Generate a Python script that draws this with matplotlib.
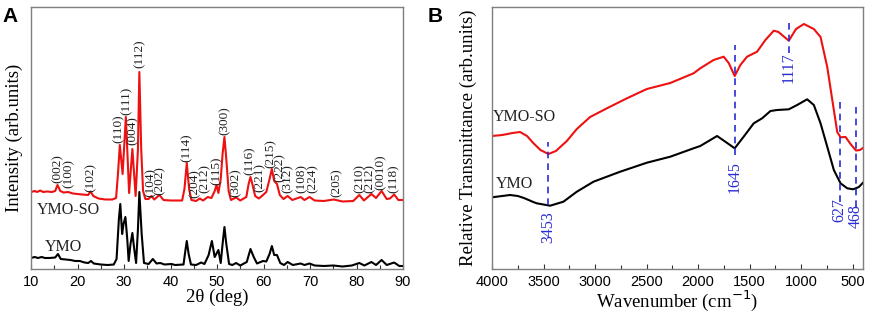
import matplotlib
matplotlib.use("Agg")
import matplotlib.pyplot as plt
from matplotlib.ticker import MultipleLocator

# ---------------- Panel A: XRD ----------------
xrd_ymoso_x = [10.0, 10.8, 11.3, 12.0, 12.6, 13.5, 14.5, 15.2, 15.7, 16.3, 17.0, 18.0, 19.0, 20.0,
               21.0, 22.3, 22.8, 23.4, 24.5, 26.0, 27.5, 28.3, 28.7, 29.1, 29.7, 30.4, 31.1, 31.8,
               32.5, 33.0, 33.3, 33.7, 34.1, 34.6, 35.3, 35.9, 36.5, 37.6, 38.5, 40.0, 42.5, 43.0,
               43.5, 44.0, 44.5, 45.5, 46.3, 47.0, 48.0, 48.8, 49.5, 49.9, 50.3, 50.8, 51.2, 51.6,
               52.0, 52.5, 53.0, 54.1, 55.0, 56.3, 56.8, 57.2, 57.6, 58.2, 59.0, 59.9, 60.6, 61.2,
               61.8, 62.3, 62.9, 63.5, 64.3, 65.2, 66.2, 68.0, 68.8, 69.9, 71.0, 73.0, 75.1, 77.0,
               79.3, 80.6, 81.6, 83.2, 84.2, 85.4, 86.5, 87.2, 88.1, 89.0, 90.0]
xrd_ymoso_y = [77, 78, 77, 78.5, 77, 77.5, 77, 78, 84, 78, 76.5, 77, 75.5, 75,
               74.5, 74, 77.5, 73, 70.5, 69.5, 69.5, 71, 95, 124, 95, 152, 76, 120,
               73, 120, 197, 120, 78, 70, 70, 73, 69.5, 74, 69, 68.5, 68.5, 80,
               106, 80, 69, 68, 70.5, 68.5, 72, 71, 78, 84, 76, 90, 115, 132,
               110, 78, 69, 71.5, 68.5, 72, 85, 92, 85, 73, 70.5, 74, 77, 88,
               100, 88, 85, 74, 70, 73, 69, 72, 69, 72, 68.5, 68, 69.5, 67.5,
               68, 74, 68.5, 75, 71, 78, 70, 70.5, 74.5, 69, 69]

xrd_ymo_x = [10.0, 10.8, 11.5, 12.3, 13.0, 14.0, 15.2, 15.8, 16.4, 17.5, 18.5, 19.5, 20.5, 21.5,
             22.3, 22.9, 23.5, 25.0, 26.5, 27.8, 28.4, 28.9, 29.2, 29.6, 29.9, 30.3, 30.7, 31.0,
             31.4, 31.8, 32.2, 32.6, 33.0, 33.3, 33.8, 34.3, 35.3, 36.2, 37.0, 37.8, 38.7, 40.2,
             41.0, 42.8, 43.1, 43.5, 43.9, 44.4, 45.5, 46.6, 47.3, 48.2, 48.9, 49.5, 50.3, 50.8,
             51.2, 51.6, 52.0, 52.6, 53.3, 54.1, 55.0, 56.4, 57.2, 57.9, 58.6, 59.9, 60.6, 61.3,
             61.8, 62.3, 62.9, 63.6, 64.4, 65.2, 66.3, 68.0, 68.8, 69.9, 71.0, 73.0, 75.0, 77.0,
             79.0, 80.6, 81.7, 83.2, 84.2, 85.4, 86.5, 88.1, 89.2, 90.0]
xrd_ymo_y = [11, 12, 11, 12, 11, 11, 11.5, 15, 10, 9.5, 9, 8, 8, 6.5,
             6, 8, 5.5, 4.5, 4, 4.5, 10, 50, 65, 35, 45, 52, 30, 8,
             25, 36, 20, 6, 40, 77, 35, 6, 5, 10, 5.5, 6, 4.5, 5,
             4, 4.5, 15, 28, 15, 4.5, 4, 6.5, 5, 14, 28, 12, 19, 6,
             25, 42, 25, 5, 4, 6, 3.5, 7, 20, 12, 5.5, 8, 7.5, 15,
             23, 14, 14, 6, 4, 7, 4, 5.5, 4, 5.5, 3.5, 3, 3.5, 2.5,
             3.5, 6, 3.5, 7, 4, 9, 4, 6.5, 3, 3]

hkl_labels = ["(002)", "(100)", "(102)", "(110)", "(111)", "(004)", "(112)", "(104)", "(202)",
              "(114)", "(204)", "(212)", "(115)", "(300)", "(302)", "(116)", "(221)", "(215)",
              "(222)", "(312)", "(108)", "(224)", "(205)", "(210)", "(212)", "(0010)", "(118)"]
hkl_x = [15.7, 18.0, 22.8, 28.9, 30.5, 31.8, 33.4, 35.7, 37.7,
         43.4, 45.3, 47.4, 49.9, 51.6, 54.1, 57.1, 59.2, 61.5,
         63.4, 65.3, 68.1, 70.6, 75.7, 80.6, 82.9, 85.1, 88.0]
hkl_y = [86, 81, 77, 126, 154, 124, 201, 72, 74,
         107, 71, 76, 84, 134, 72, 94, 77, 101,
         87, 76, 76, 76, 72, 76, 76, 79, 76]

# ---------------- Panel B: FTIR ----------------
ftir_ymoso_x = [4000, 3900, 3800, 3728, 3660, 3600, 3530, 3453, 3380, 3274, 3177, 3048, 2885, 2691,
                2497, 2270, 2044, 1979, 1850, 1752, 1703, 1645, 1590, 1525, 1428, 1347, 1266, 1220,
                1120, 1050, 974, 877, 812, 747, 683, 650, 618, 569, 521, 468, 430, 400]
ftir_ymoso_y = [133, 134, 136, 137, 133, 126, 119, 115, 118, 128, 140, 152, 160.7, 170.7,
                180, 186, 195.7, 200.7, 209, 212.3, 206, 193, 204, 212.3, 217.3, 229, 238.3, 237,
                228.3, 240, 245, 240, 232, 202, 159, 137, 131.7, 132, 125, 118.5, 119, 121]

ftir_ymo_x = [4000, 3900, 3825, 3750, 3690, 3600, 3566, 3436, 3307, 3177, 3015, 2756, 2497, 2270,
              2044, 1979, 1816, 1736, 1645, 1558, 1460, 1379, 1298, 1233, 1120, 1039, 942, 877,
              812, 747, 683, 618, 553, 495, 440, 400]
ftir_ymo_y = [71.7, 73, 74, 73, 71, 67, 65.7, 63.3, 67.3, 77.3, 87.3, 97.3, 106.3, 112.3,
              120.7, 123, 133, 127.3, 120.7, 132.3, 145.7, 150.7, 158, 159, 159.7, 164, 169.7, 164,
              145.7, 122.3, 99, 85.7, 80.7, 79.7, 82, 86.3]

band_labels = ["3453", "1645", "1117", "627", "468"]
band_x = [3453, 1645, 1117, 627, 468]
band_line_top = [127, 224, 251, 172, 167]
band_line_bottom = [64, 114, 216, 67, 62]
band_label_y = [26, 76, 186, 47, 41]

serif = ["Liberation Serif", "DejaVu Serif"]
sans = ["Liberation Sans", "DejaVu Sans"]
spine_col = "#7f7f7f"

fig = plt.figure(figsize=(8.72, 3.14), dpi=100)
axA = fig.add_axes([31/872, 1-269/314, 372/872, 262/314])
axB = fig.add_axes([492/872, 1-269/314, 371/872, 262/314])

for ax in (axA, axB):
    for s in ax.spines.values():
        s.set_color(spine_col)
        s.set_linewidth(1.0)
    ax.set_yticks([])
    ax.tick_params(axis="x", which="both", direction="in", color="#333333",
                   labelsize=10.5, pad=4, width=0.8)
    ax.tick_params(axis="x", which="major", length=3.5)
    ax.tick_params(axis="x", which="minor", length=3)
    ax.set_ylim(0, 262)

# Panel A
axA.plot(xrd_ymoso_x, xrd_ymoso_y, color="#ee1111", lw=1.5)
axA.plot(xrd_ymo_x, xrd_ymo_y, color="black", lw=1.5)
axA.set_xlim(10, 90)
axA.xaxis.set_major_locator(MultipleLocator(10))
axA.xaxis.set_minor_locator(MultipleLocator(5))
for t, x, y in zip(hkl_labels, hkl_x, hkl_y):
    axA.text(x, y, t, rotation=90, ha="center", va="bottom", fontsize=9.5,
             family=serif, color="#222222")
axA.text(11.2, 59, "YMO-SO", ha="left", va="center", fontsize=11.5, family=serif, color="#222222")
axA.text(13.0, 22, "YMO", ha="left", va="center", fontsize=11.5, family=serif, color="#222222")
axA.set_xlabel("2θ (deg)", fontsize=13.5, family=serif, labelpad=0)
axA.set_ylabel("Intensity (arb.units)", fontsize=13.5, family=serif, labelpad=6)
for lab in axA.get_xticklabels():
    lab.set_family(sans)

# Panel B
axB.plot(ftir_ymoso_x, ftir_ymoso_y, color="#ee1111", lw=1.5)
axB.plot(ftir_ymo_x, ftir_ymo_y, color="black", lw=1.5)
axB.set_xlim(4000, 400)
axB.xaxis.set_major_locator(MultipleLocator(500))
axB.xaxis.set_minor_locator(MultipleLocator(250))
for t, x, yt, yb, yl in zip(band_labels, band_x, band_line_top, band_line_bottom, band_label_y):
    axB.plot([x, x], [yb, yt], color="#2b2bd6", lw=1.2, ls=(0, (4, 3)))
    axB.text(x, yl, t, rotation=90, ha="center", va="bottom", fontsize=11.5,
             family=serif, color="#2b2bd6")
axB.text(3990, 152, "YMO-SO", ha="left", va="center", fontsize=11.5, family=serif, color="#222222")
axB.text(3960, 84.5, "YMO", ha="left", va="center", fontsize=11.5, family=serif, color="#222222")
axB.set_xlabel("Wavenumber (cm$^{-1}$)", fontsize=13.5, family=serif, labelpad=0)
axB.set_ylabel("Relative Transmittance (arb.units)", fontsize=13.5, family=serif, labelpad=11)
for lab in axB.get_xticklabels():
    lab.set_family(sans)

fig.text(2/872, 1-7/314, "A", fontsize=15, fontweight="bold", family=sans, va="top", ha="left")
fig.text(428/872, 1-7/314, "B", fontsize=15, fontweight="bold", family=sans, va="top", ha="left")

fig.savefig("out.png", dpi=100)
